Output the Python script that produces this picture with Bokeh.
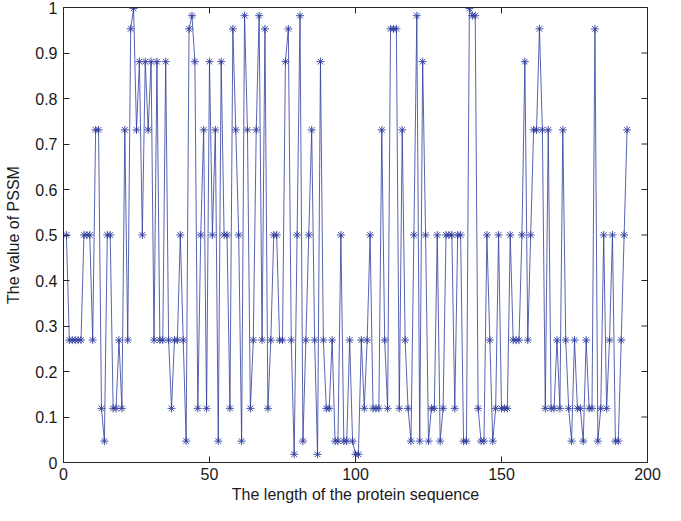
import math
from bokeh.plotting import figure
from bokeh.models import FixedTicker, Range1d, CustomJSTickFormatter
from bokeh.embed import file_html
from bokeh.resources import INLINE

# PSSM value for each residue of the protein sequence
pssm = [
    0.5, 0.269, 0.269, 0.269, 0.269, 0.269, 0.5, 0.5, 0.5, 0.269,
    0.731, 0.731, 0.119, 0.047, 0.5, 0.5, 0.119, 0.119, 0.269, 0.119,
    0.731, 0.269, 0.953, 0.998, 0.731, 0.881, 0.5, 0.881, 0.731, 0.881,
    0.269, 0.881, 0.269, 0.269, 0.881, 0.269, 0.119, 0.269, 0.269, 0.5,
    0.269, 0.047, 0.953, 0.982, 0.881, 0.119, 0.5, 0.731, 0.119, 0.881,
    0.5, 0.731, 0.047, 0.881, 0.5, 0.5, 0.119, 0.953, 0.731, 0.5,
    0.047, 0.982, 0.731, 0.119, 0.269, 0.731, 0.982, 0.269, 0.953, 0.119,
    0.269, 0.5, 0.5, 0.269, 0.269, 0.881, 0.953, 0.269, 0.018, 0.5,
    0.982, 0.047, 0.269, 0.5, 0.731, 0.269, 0.018, 0.881, 0.269, 0.119,
    0.119, 0.269, 0.047, 0.047, 0.5, 0.047, 0.047, 0.269, 0.047, 0.018,
    0.018, 0.269, 0.119, 0.269, 0.5, 0.119, 0.119, 0.119, 0.731, 0.269,
    0.119, 0.953, 0.953, 0.953, 0.119, 0.731, 0.269, 0.119, 0.047, 0.5,
    0.982, 0.047, 0.881, 0.5, 0.047, 0.119, 0.119, 0.5, 0.047, 0.119,
    0.5, 0.5, 0.5, 0.119, 0.5, 0.5, 0.047, 0.047, 0.998, 0.982,
    0.982, 0.119, 0.047, 0.047, 0.5, 0.269, 0.047, 0.119, 0.5, 0.119,
    0.119, 0.119, 0.5, 0.269, 0.269, 0.269, 0.5, 0.881, 0.269, 0.5,
    0.731, 0.731, 0.953, 0.731, 0.119, 0.731, 0.119, 0.119, 0.269, 0.119,
    0.731, 0.269, 0.119, 0.047, 0.269, 0.119, 0.119, 0.047, 0.269, 0.119,
    0.119, 0.953, 0.047, 0.119, 0.5, 0.119, 0.269, 0.5, 0.047, 0.047,
    0.269, 0.5, 0.731,
]
positions = list(range(1, len(pssm) + 1))

x_min, x_max = 0, 200
y_min, y_max = 0, 1
x_ticks = [0, 50, 100, 150, 200]
y_ticks = [0, 0.1, 0.2, 0.3, 0.4, 0.5, 0.6, 0.7, 0.8, 0.9, 1]
x_label = "The length of the protein sequence"
y_label = "The value of PSSM"

LINE = "#2f3c9e"
AXIS = "#262626"
FONT = "Liberation Sans"

p = figure(width=665, height=505, output_backend="svg", toolbar_location=None,
           x_range=Range1d(x_min, x_max), y_range=Range1d(y_min, y_max),
           min_border_left=63, min_border_right=18, min_border_top=7,
           min_border_bottom=0, background_fill_color="white",
           border_fill_color="white")
p.xgrid.visible = False
p.ygrid.visible = False
p.outline_line_color = AXIS
p.outline_line_width = 1

fmt = CustomJSTickFormatter(code="return String(tick);")

for ax, ticks in ((p.xaxis[0], x_ticks), (p.yaxis[0], y_ticks)):
    ax.ticker = FixedTicker(ticks=ticks)
    ax.formatter = fmt
    ax.major_tick_in = 6
    ax.major_tick_out = 0
    ax.minor_tick_line_color = None
    ax.axis_line_color = AXIS
    ax.major_tick_line_color = AXIS
    ax.major_label_text_font = FONT
    ax.major_label_text_color = "#1a1a1a"
    ax.major_label_text_font_size = "16px"
    ax.axis_label_text_font = FONT
    ax.axis_label_text_font_style = "normal"
    ax.axis_label_text_color = "#1a1a1a"
    ax.axis_label_text_font_size = "16px"

p.xaxis[0].axis_label = x_label
p.yaxis[0].axis_label = y_label
p.xaxis[0].major_label_standoff = 5
p.xaxis[0].axis_label_standoff = 3
p.yaxis[0].major_label_standoff = 6
p.yaxis[0].axis_label_standoff = 10

# mirrored inward ticks on the top and right edges of the box (clipped to frame)
p.scatter(x_ticks, [y_max] * len(x_ticks), marker="dash", size=12,
          angle=math.pi / 2, line_color=AXIS, line_width=1)
p.scatter([x_max] * len(y_ticks), y_ticks, marker="dash", size=12,
          line_color=AXIS, line_width=1)

p.line(positions, pssm, line_color=LINE, line_width=0.8)
p.scatter(positions, pssm, marker="asterisk", size=8, line_color=LINE,
          line_width=0.9)

open("out.html", "w").write(file_html(p, INLINE))
